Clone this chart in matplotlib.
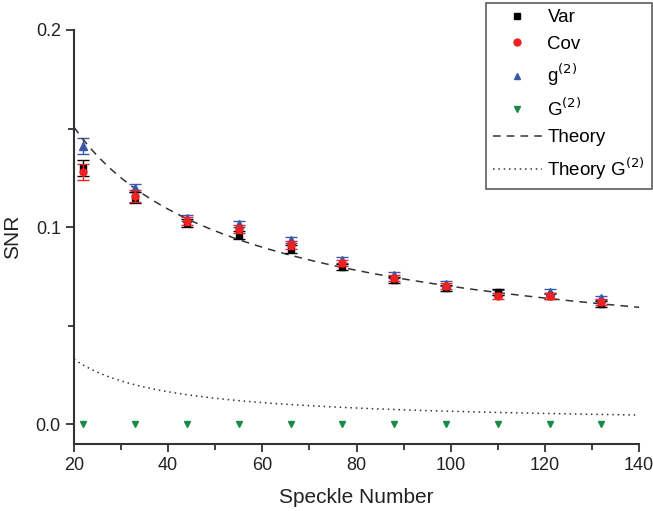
import numpy as np
import matplotlib
matplotlib.use("Agg")
import matplotlib.pyplot as plt
from matplotlib.lines import Line2D
from matplotlib.ticker import MultipleLocator, FormatStrFormatter

plt.rcParams["font.family"] = ["Liberation Sans", "DejaVu Sans"]

# speckle numbers
speckle = [22, 33, 44, 55, 66, 77, 88, 99, 110, 121, 132]

snr_var = [0.130, 0.115, 0.102, 0.096, 0.089, 0.080, 0.073, 0.069, 0.067, 0.065, 0.061]
err_var = [0.004, 0.003, 0.002, 0.002, 0.002, 0.0015, 0.0015, 0.0015, 0.0015, 0.0015, 0.0015]
snr_cov = [0.128, 0.116, 0.103, 0.099, 0.091, 0.082, 0.0744, 0.070, 0.0653, 0.0653, 0.062]
err_cov = [0.004, 0.003, 0.002, 0.002, 0.002, 0.0015, 0.0015, 0.0015, 0.0015, 0.0015, 0.0015]
snr_g2 = [0.141, 0.120, 0.1045, 0.1018, 0.0937, 0.0835, 0.0755, 0.0714, 0.0668, 0.0673, 0.064]
err_g2 = [0.004, 0.002, 0.0015, 0.0015, 0.0015, 0.0015, 0.0015, 0.0015, 0.0012, 0.0012, 0.0012]
snr_G2 = [0.0, 0.0, 0.0, 0.0, 0.0, 0.0, 0.0, 0.0, 0.0, 0.0, 0.0]

# theory curves
n_theory = np.linspace(20, 140, 300)
snr_theory = 1.0 / np.sqrt(2 * n_theory + 4)
snr_theory_G2 = 0.66 / n_theory

fig = plt.figure(figsize=(6.53, 5.11), dpi=100)
ax = fig.add_axes([0.1133, 0.1311, 0.8653, 0.8102])

blue = "#3a57a8"
green = "#1b8a45"
red = "#ee2222"
dark = "#333333"

ax.errorbar(speckle, snr_var, yerr=err_var, fmt="s", color="black", ms=5,
            capsize=4, elinewidth=1, zorder=3)
ax.errorbar(speckle, snr_cov, yerr=err_cov, fmt="o", color=red, ms=5,
            capsize=4, elinewidth=1, zorder=4)
ax.errorbar(speckle, snr_g2, yerr=err_g2, fmt="^", color=blue, ms=5.5,
            capsize=4, elinewidth=1, zorder=2)
ax.plot(speckle, snr_G2, "v", color=green, ms=5, ls="none")
ax.plot(n_theory, snr_theory, ls=(0, (5, 4)), color=dark, lw=1.1)
ax.plot(n_theory, snr_theory_G2, ls=(0, (1, 2.5)), color=dark, lw=1.1)

ax.set_xlim(20, 140)
ax.set_ylim(-0.01, 0.2)
ax.xaxis.set_major_locator(MultipleLocator(20))
ax.xaxis.set_minor_locator(MultipleLocator(10))
ax.yaxis.set_major_locator(MultipleLocator(0.1))
ax.yaxis.set_minor_locator(MultipleLocator(0.05))
ax.yaxis.set_major_formatter(FormatStrFormatter("%.1f"))

for side in ["top", "right"]:
    ax.spines[side].set_visible(False)
for side in ["left", "bottom"]:
    ax.spines[side].set_linewidth(1.5)
    ax.spines[side].set_color(dark)

ax.tick_params(which="major", direction="out", length=6, width=1.3, labelsize=13,
               colors=dark, labelcolor="#222222")
ax.tick_params(which="minor", direction="out", length=4, width=1.3, colors=dark)

ax.set_xlabel("Speckle Number", fontsize=15, color="#222222", labelpad=10)
ax.set_ylabel("SNR", fontsize=15, color="#222222", labelpad=10)

handles = [
    Line2D([], [], marker="s", ls="none", color="black", ms=5),
    Line2D([], [], marker="o", ls="none", color=red, ms=5),
    Line2D([], [], marker="^", ls="none", color=blue, ms=5),
    Line2D([], [], marker="v", ls="none", color=green, ms=5),
    Line2D([], [], ls=(0, (5, 4)), color=dark, lw=1.1),
    Line2D([], [], ls=(0, (1, 2.5)), color=dark, lw=1.1),
]
labels = ["Var", "Cov", "g$^{(2)}$", "G$^{(2)}$", "Theory", "Theory G$^{(2)}$"]
leg = fig.legend(handles, labels, loc="upper left", bbox_to_anchor=(0.745, 0.995),
                 fontsize=13.5, frameon=True, fancybox=False, edgecolor=dark,
                 handlelength=2.6, borderpad=0.35, labelspacing=0.5,
                 handletextpad=0.3, borderaxespad=0)
leg.get_frame().set_linewidth(1.2)

fig.savefig("out.png", dpi=100)
